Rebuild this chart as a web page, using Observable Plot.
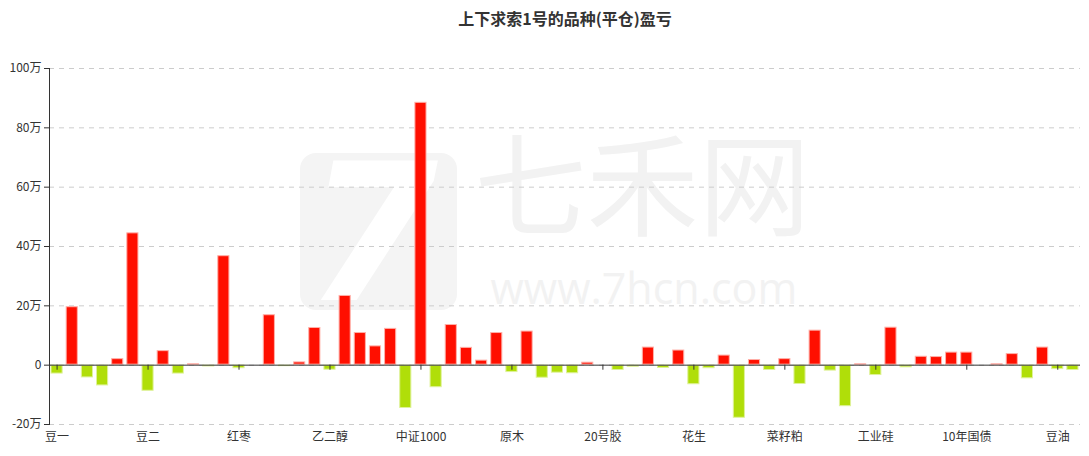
<!DOCTYPE html>
<html>
<head>
<meta charset="utf-8">
<script src="https://cdn.jsdelivr.net/npm/d3@7"></script>
<script src="https://cdn.jsdelivr.net/npm/@observablehq/plot@0.6"></script>
<style>
  html, body { margin: 0; padding: 0; background: #fff; }
  #chart svg { display: block; }
</style>
</head>
<body>
<div id="chart"></div>
<script>
const title = "上下求索1号的品种(平仓)盈亏";

const categories = [
  "豆一","甲醇","白银","玉米","豆粕","沪铜","豆二","棕榈油","螺纹钢","铁矿石","焦炭","沪镍","红枣",
  "苹果","PTA","纯碱","玻璃","沪锌","乙二醇","橡胶","沪铝","尿素","生猪","沪金","中证1000",
  "沪深300","上证50","中证500","液化气","塑料","原木","聚丙烯","苯乙烯","燃料油","低硫燃料油","沥青",
  "20号胶","纸浆","热卷","不锈钢","鸡蛋","棉花","花生","白糖","菜油","短纤","碳酸锂","硅铁","菜籽粕",
  "锰硅","焦煤","沪锡","沪铅","PVC","工业硅","集运指数","烧碱","2年国债","5年国债","30年国债","10年国债",
  "对二甲苯","丁二烯橡胶","瓶片","多晶硅","棉纱","豆油","原油"
];

// 盈亏, 单位: 万
const values = [
  -3.0, 19.7, -4.3, -7.0, 2.2, 44.6, -8.8, 4.9, -3.0, 0.45, -0.6, 36.9, -1.2,
  -0.3, 17.0, -0.5, 1.1, 12.7, -1.7, 23.5, 11.0, 6.5, 12.4, -14.6, 88.6,
  -7.6, 13.7, 6.0, 1.7, 11.0, -2.5, 11.5, -4.4, -2.7, -2.9, 1.0,
  0.0, -1.8, -0.7, 6.1, -1.1, 5.1, -6.6, -1.2, 3.4, -17.9, 1.9, -1.8, 2.2,
  -6.5, 11.8, -2.0, -14.0, 0.45, -3.5, 12.8, -0.9, 3.0, 2.9, 4.4, 4.4,
  0.0, 0.45, 3.9, -4.6, 6.1, -1.5, -1.8
];

const yTicks = [-20, 0, 20, 40, 60, 80, 100];
const shownLabels = categories.filter((d, i) => i % 6 === 0);

const data = categories.map((c, i) => ({ name: c, value: values[i] }));
const pos = data.filter(d => d.value >= 0);
const neg = data.filter(d => d.value < 0);

const fmtY = v => v === 0 ? "0" : `${v}万`;
const font = "'Noto Sans CJK SC', 'Noto Sans', sans-serif";

// decorative watermark logo (rounded square)
function logoMark(index, scales, values, dims) {
  const g = d3.create("svg:g");
  g.append("rect").attr("x", 300).attr("y", 153).attr("width", 157).attr("height", 157)
    .attr("rx", 16).attr("fill", "#f4f4f4");
  g.append("text").attr("x", 372).attr("y", 300).attr("text-anchor", "middle")
    .attr("font-size", 190).attr("font-weight", "bold").attr("font-style", "italic")
    .attr("font-family", "'DejaVu Sans', sans-serif").attr("fill", "#fff").text("7");
  return g.node();
}

const chart = Plot.plot({
  width: 1089,
  height: 456,
  marginLeft: 49,
  marginRight: 9,
  marginTop: 68,
  marginBottom: 32,
  style: { fontFamily: font, fontSize: "12px", color: "#333", background: "#fff" },
  x: { domain: categories, paddingInner: 0.2, paddingOuter: 0.1, round: false, axis: null },
  y: { domain: [-20, 100], axis: null },
  marks: [
    // watermark
    logoMark,
    Plot.text([0], {
      frameAnchor: "top-left", dx: 425, dy: 80, text: () => "七禾网",
      fontSize: 112, fill: "#f2f2f2", textAnchor: "start", lineAnchor: "top",
      fontFamily: "'Noto Sans CJK SC', sans-serif"
    }),
    Plot.text([0], {
      frameAnchor: "top-left", dx: 441, dy: 205, text: () => "www.7hcn.com",
      fontSize: 43, fill: "#f2f2f2", textAnchor: "start", lineAnchor: "top",
      fontFamily: "'Open Sans', sans-serif"
    }),
    // grid
    Plot.gridY(yTicks, { stroke: "#ccc", strokeOpacity: 1, strokeDasharray: "5,5" }),
    // bars
    Plot.barY(pos, { x: "name", y: "value", fill: "#ff0f00", stroke: "#ffb0a8", strokeWidth: 1, inset: 0.5 }),
    Plot.barY(neg, { x: "name", y: "value", fill: "#b0de09", stroke: "#dff29a", strokeWidth: 1, inset: 0.5 }),
    // zero line
    Plot.ruleY([0], { stroke: "#333", strokeWidth: 1 }),
    // x ticks on zero line
    Plot.ruleX(shownLabels, { x: d => d, y1: 0, y2: -1.7, stroke: "#333" }),
    // x labels at bottom
    Plot.axisX(shownLabels, { anchor: "bottom", label: null, tickSize: 0, tickPadding: 8, fontSize: 12, fill: "#333", color: "#333" }),
    // y axis
    Plot.axisY(yTicks, { anchor: "left", label: null, tickSize: 5, tickPadding: 3, tickFormat: fmtY, fontSize: 12, color: "#333", fill: "#333" }),
    Plot.frame({ anchor: "left", stroke: "#333", strokeOpacity: 1 }),
    // title
    Plot.text([title], {
      frameAnchor: "top", dy: -49, text: d => d, fontSize: 16, fontWeight: "bold", fill: "#333",
      fontFamily: font, lineAnchor: "middle"
    })
  ]
});

document.getElementById("chart").appendChild(chart);
</script>
</body>
</html>
